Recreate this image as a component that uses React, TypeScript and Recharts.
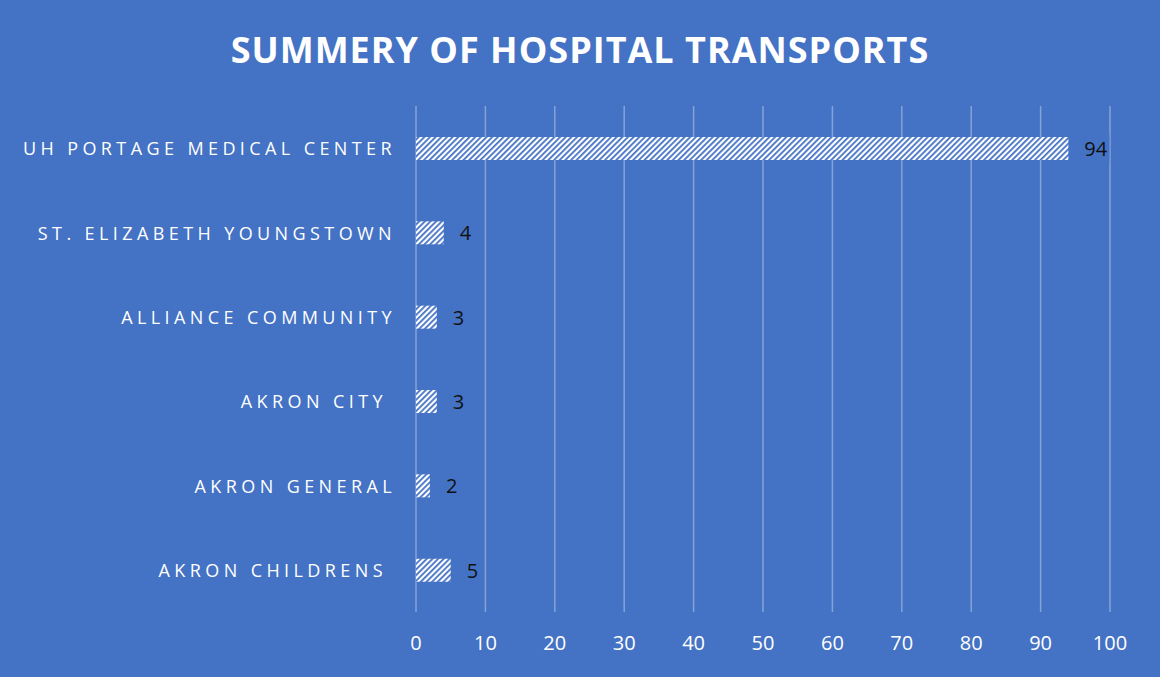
import { BarChart, Bar, XAxis, YAxis, CartesianGrid, LabelList } from 'recharts';

const hospitals = [
  'UH PORTAGE MEDICAL CENTER',
  'ST. ELIZABETH YOUNGSTOWN',
  'ALLIANCE COMMUNITY',
  'AKRON CITY ',
  'AKRON GENERAL',
  'AKRON CHILDRENS ',
];
const transports = [94, 4, 3, 3, 2, 5];
const xTicks = [0, 10, 20, 30, 40, 50, 60, 70, 80, 90, 100];

const data = hospitals.map((name, i) => ({ name, value: transports[i] }));

const BG = '#4472C4';
const FONT = '"Open Sans", "Liberation Sans", sans-serif';

function HospitalTick({ x, y, payload }: any) {
  return (
    <text
      x={x}
      y={y}
      textAnchor="end"
      dominantBaseline="central"
      fill="#fff"
      fontSize={18}
      fontFamily={FONT}
      letterSpacing={4.4}
      style={{ whiteSpace: 'pre' }}
    >
      {payload.value}
    </text>
  );
}

function ValueTick({ x, y, payload }: any) {
  return (
    <text x={x} y={y} textAnchor="middle" dominantBaseline="central" fill="#fff" fontSize={20} fontFamily={FONT}>
      {payload.value}
    </text>
  );
}

function ValueLabel({ x, y, width, height, value }: any) {
  const lx = x + width + 16;
  const cy = y + height / 2;
  const w = String(value).length * 12;
  return (
    <g>
      <rect x={lx - 1} y={cy - 14} width={w + 2} height={28} fill={BG} />
      <text x={lx} y={cy} dominantBaseline="central" fill="#111" fontSize={20} fontFamily={FONT}>
        {value}
      </text>
    </g>
  );
}

export default function App() {
  return (
    <div style={{ position: 'fixed', top: 0, left: 0, width: 1160, height: 677, background: BG }}>
      <div
        style={{
          position: 'absolute',
          top: 25,
          left: 0,
          width: 1160,
          textAlign: 'center',
          color: '#fff',
          fontFamily: FONT,
          fontWeight: 700,
          fontSize: 36,
          letterSpacing: 1,
          lineHeight: '50px',
        }}
      >
        SUMMERY OF HOSPITAL TRANSPORTS
      </div>
      <BarChart
        width={1160}
        height={677}
        data={data}
        layout="vertical"
        margin={{ top: 106, right: 50, bottom: 0, left: 16 }}
        barSize={23}
      >
        <defs>
          <pattern id="hatch" width="4" height="4" patternUnits="userSpaceOnUse" patternTransform="rotate(45)">
            <rect width="4" height="4" fill="#fff" />
            <rect width="1.8" height="4" fill={BG} />
          </pattern>
        </defs>
        <CartesianGrid horizontal={false} stroke="rgba(255,255,255,0.35)" strokeWidth={1.5} />
        <XAxis
          type="number"
          domain={[0, 100]}
          ticks={xTicks}
          axisLine={false}
          tickLine={false}
          tick={<ValueTick />}
          tickMargin={24}
          height={65}
        />
        <YAxis
          type="category"
          dataKey="name"
          width={400}
          axisLine={false}
          tickLine={false}
          tick={<HospitalTick />}
          tickMargin={14}
        />
        <Bar dataKey="value" fill="url(#hatch)" isAnimationActive={false}>
          <LabelList dataKey="value" content={<ValueLabel />} />
        </Bar>
      </BarChart>
    </div>
  );
}
